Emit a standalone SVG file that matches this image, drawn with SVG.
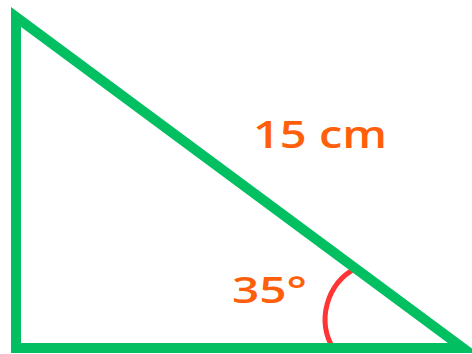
<svg xmlns="http://www.w3.org/2000/svg" width="472" height="354" viewBox="0 0 472 354">
  <style>
    .lbl { font-family: "Open Sans", "Liberation Sans", sans-serif; font-weight: 600; fill: #FF5F0A; }
    .edge { fill: none; stroke: #02C061; stroke-width: 10; stroke-linejoin: miter; stroke-miterlimit: 10; }
    .angle { fill: none; stroke: #FF3535; stroke-width: 5; }
  </style>
  <rect width="472" height="354" fill="#FFFFFF"/>
  <g id="angle-mark">
    <path class="angle" d="M 356 268 A 58 58 0 0 0 334 350"/>
  </g>
  <g id="triangle">
    <polygon class="edge" points="16,17 16,348 463,348"/>
  </g>
  <g id="labels">
    <text id="hyp-label" class="lbl" x="253" y="148" font-size="38" textLength="134" lengthAdjust="spacingAndGlyphs">15 cm</text>
    <text id="angle-label" class="lbl" x="232" y="303" font-size="36" textLength="75" lengthAdjust="spacingAndGlyphs">35°</text>
  </g>
</svg>
